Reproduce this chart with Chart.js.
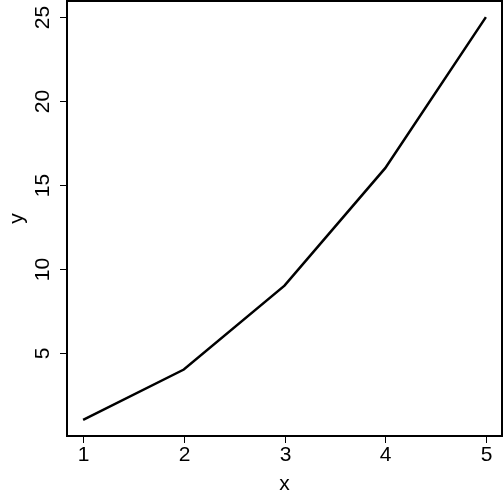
<!DOCTYPE html>
<html>
<head>
<meta charset="utf-8">
<script src="https://cdn.jsdelivr.net/npm/chart.js@4"></script>
<style>
  html, body { margin: 0; padding: 0; background: #fff; }
  #wrap { width: 504px; height: 504px; }
</style>
</head>
<body>
<div id="wrap"><canvas id="c" width="504" height="504"></canvas></div>
<script>
const xValues = [1, 2, 3, 4, 5];
const yValues = [1, 4, 9, 16, 25];
const xTicks = [1, 2, 3, 4, 5];
const yTicks = [5, 10, 15, 20, 25];

const FONT = "21px 'Liberation Sans', Arial, sans-serif";

// draws the R-style box, ticks and labels from the chart's own scales
const baseAxes = {
  id: "baseAxes",
  afterDraw(chart) {
    const { ctx, chartArea: a, scales } = chart;
    const sx = scales.x, sy = scales.y;
    ctx.save();
    ctx.strokeStyle = "#000";
    ctx.lineWidth = 2;
    ctx.strokeRect(a.left, a.top, a.right - a.left, a.bottom - a.top);

    ctx.lineWidth = 1;
    ctx.fillStyle = "#000";
    ctx.font = FONT;
    ctx.textAlign = "center";
    ctx.textBaseline = "middle";

    xTicks.forEach((t) => {
      const px = Math.round(sx.getPixelForValue(t)) + 0.5;
      ctx.beginPath();
      ctx.moveTo(px, a.bottom);
      ctx.lineTo(px, a.bottom + 7);
      ctx.stroke();
      ctx.fillText(String(t), px, a.bottom + 19);
    });

    yTicks.forEach((t) => {
      const py = Math.round(sy.getPixelForValue(t)) + 0.5;
      ctx.beginPath();
      ctx.moveTo(a.left - 7, py);
      ctx.lineTo(a.left, py);
      ctx.stroke();
      ctx.save();
      ctx.translate(a.left - 24, py);
      ctx.rotate(-Math.PI / 2);
      ctx.fillText(String(t), 0, 0);
      ctx.restore();
    });

    ctx.fillText("x", (a.left + a.right) / 2, a.bottom + 48);
    ctx.save();
    ctx.translate(a.left - 50, (a.top + a.bottom) / 2);
    ctx.rotate(-Math.PI / 2);
    ctx.fillText("y", 0, 0);
    ctx.restore();
    ctx.restore();
  },
};

new Chart(document.getElementById("c").getContext("2d"), {
  type: "scatter",
  data: {
    datasets: [
      {
        data: xValues.map((x, i) => ({ x, y: yValues[i] })),
        showLine: true,
        borderColor: "#000",
        borderWidth: 2.5,
        pointRadius: 0,
        tension: 0,
      },
    ],
  },
  options: {
    responsive: false,
    animation: false,
    layout: { padding: { left: 67, top: 1, right: 2, bottom: 68 } },
    plugins: { legend: { display: false }, tooltip: { enabled: false } },
    scales: {
      x: { type: "linear", min: 0.84, max: 5.16, display: false },
      y: { type: "linear", min: 0.04, max: 25.96, display: false },
    },
  },
  plugins: [baseAxes],
});
</script>
</body>
</html>
